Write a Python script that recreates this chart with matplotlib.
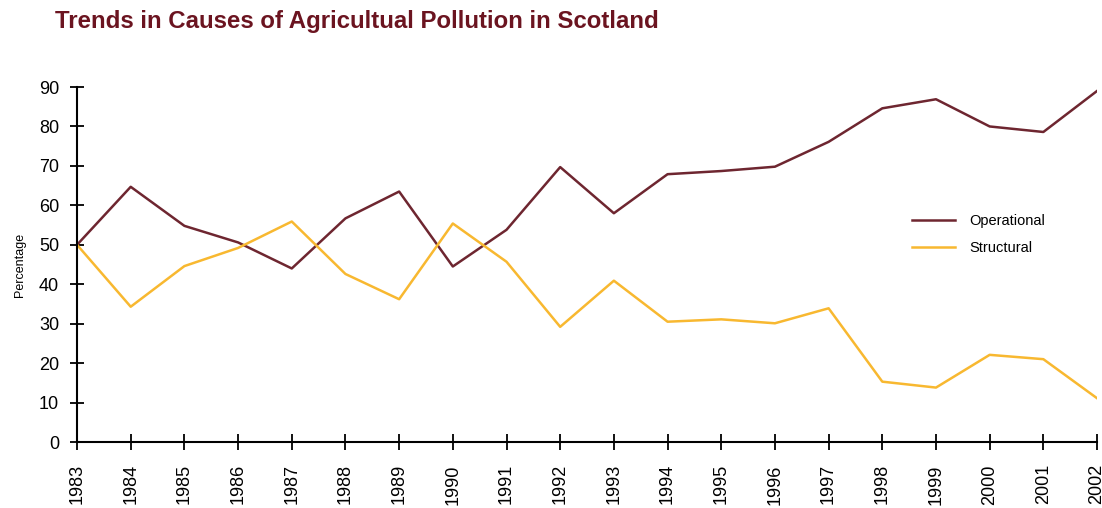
import matplotlib
matplotlib.use('Agg')
import matplotlib.pyplot as plt

# Share of agricultural pollution incidents by cause, Scotland
years = list(range(1983, 2003))
operational = [50, 64.7, 54.8, 50.6, 44.0, 56.7, 63.5, 44.5, 53.8, 69.7,
               58.0, 67.9, 68.7, 69.8, 76.1, 84.6, 86.9, 80.0, 78.6, 89.0]
structural = [50, 34.3, 44.6, 49.2, 55.9, 42.6, 36.2, 55.4, 45.7, 29.2,
              40.9, 30.5, 31.1, 30.1, 33.9, 15.3, 13.8, 22.1, 21.0, 11.1]
y_ticks = list(range(0, 100, 10))

plt.rcParams['font.family'] = ['Liberation Sans', 'DejaVu Sans']

fig = plt.figure(figsize=(11.02, 5.08), dpi=100)
ax = fig.add_axes([0.0699, 0.1299, 0.9256, 0.6988])

ax.plot(years, operational, color='#6e2630', lw=1.8, label='Operational')
ax.plot(years, structural, color='#f8b830', lw=1.8, label='Structural')

ax.set_xlim(1983, 2002)
ax.set_ylim(0, 90)
ax.set_xticks(years)
ax.set_yticks(y_ticks)
ax.set_xticklabels([str(y) for y in years], rotation=90, fontsize=13)
ax.tick_params(axis='y', labelsize=13, direction='inout', length=10, width=1.3, pad=8)
ax.tick_params(axis='x', direction='inout', length=12, width=1.3, pad=10)

for side in ('top', 'right'):
    ax.spines[side].set_visible(False)
for side in ('left', 'bottom'):
    ax.spines[side].set_linewidth(1.5)
    ax.spines[side].set_clip_on(False)

ax.set_ylabel('Percentage', fontsize=9, labelpad=9)

leg = ax.legend(loc='upper left', bbox_to_anchor=(0.806, 0.68), frameon=False,
                fontsize=10.5, handlelength=2.9, handletextpad=1.0, labelspacing=0.9)

fig.text(0.05, 0.958, 'Trends in Causes of Agricultual Pollution in Scotland',
         fontsize=17.3, fontweight='bold', color='#6b1420', va='center',
         family=['Liberation Sans Narrow', 'Liberation Sans', 'DejaVu Sans'])

fig.savefig('out.png', dpi=100)
